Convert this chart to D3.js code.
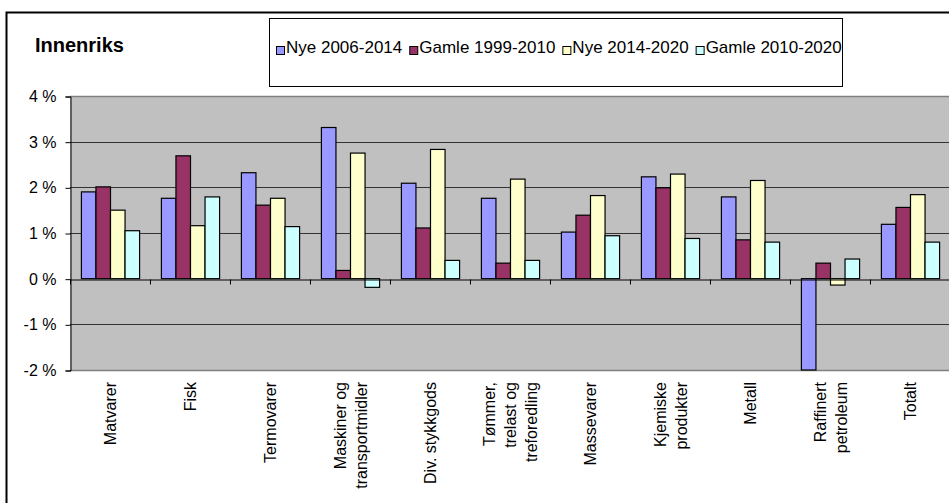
<!DOCTYPE html>
<html><head><meta charset="utf-8">
<script src="https://cdn.jsdelivr.net/npm/d3@7"></script>
<style>
html,body{margin:0;padding:0;background:#fff;}
svg{display:block;font-family:"Liberation Sans",Arial,sans-serif;}
</style></head>
<body>
<script>
const categories = [
  ["Matvarer"],
  ["Fisk"],
  ["Termovarer"],
  ["Maskiner og", "transportmidler"],
  ["Div. stykkgods"],
  ["Tømmer,", "trelast og", "treforedling"],
  ["Massevarer"],
  ["Kjemiske", "produkter"],
  ["Metall"],
  ["Raffinert", "petroleum"],
  ["Totalt"]
];
const seriesNames = ["Nye 2006-2014", "Gamle 1999-2010", "Nye 2014-2020", "Gamle 2010-2020"];
const nye2006_2014   = [1.90, 1.76, 2.32, 3.31, 2.09, 1.76, 1.02, 2.23, 1.79, -2.00, 1.19];
const gamle1999_2010 = [2.01, 2.69, 1.61, 0.18, 1.11, 0.34, 1.39, 1.99, 0.85, 0.34, 1.56];
const nye2014_2020   = [1.50, 1.16, 1.76, 2.75, 2.83, 2.18, 1.82, 2.29, 2.15, -0.14, 1.84];
const gamle2010_2020 = [1.05, 1.79, 1.14, -0.19, 0.40, 0.40, 0.94, 0.88, 0.80, 0.43, 0.80];
const yTickValues = [-2, -1, 0, 1, 2, 3, 4];
const yTickLabels = ["-2 %", "-1 %", "0 %", "1 %", "2 %", "3 %", "4 %"];
const colors = ["#9999FF", "#993366", "#FFFFCC", "#CCFFFF"];
const title = "Innenriks";

const seriesValues = [nye2006_2014, gamle1999_2010, nye2014_2020, gamle2010_2020];
const W = 949, H = 503;
const plot = {left: 70, right: 950, top: 96, bottom: 370};

const svg = d3.select("body").append("svg").attr("width", W).attr("height", H);

// outer chart border
svg.append("rect").attr("x", 6.5).attr("y", 12.5).attr("width", 980).attr("height", 520)
  .attr("fill", "#fff").attr("stroke", "#000").attr("stroke-width", 2);

const catKeys = categories.map((c, i) => i);
const x = d3.scaleBand().domain(catKeys).range([plot.left, plot.right])
  .paddingInner(1.5 / 5.5).paddingOuter(0.75 / 5.5);
const xs = d3.scaleBand().domain(d3.range(seriesNames.length)).range([0, x.bandwidth()]);
const y = d3.scaleLinear().domain([-2, 4]).range([plot.bottom, plot.top]);

// plot area
svg.append("rect").attr("x", plot.left).attr("y", plot.top)
  .attr("width", plot.right - plot.left).attr("height", plot.bottom - plot.top)
  .attr("fill", "#C0C0C0");

// gridlines
svg.append("g").selectAll("line").data(yTickValues.filter(v => v !== 0 && v !== -2 && v !== 4))
  .join("line")
  .attr("x1", plot.left).attr("x2", plot.right)
  .attr("y1", d => Math.round(y(d)) + 0.5).attr("y2", d => Math.round(y(d)) + 0.5)
  .attr("stroke", "#333").attr("stroke-width", 1);
// top & bottom edges
[4, -2].forEach(v => {
  svg.append("line").attr("x1", plot.left).attr("x2", plot.right)
    .attr("y1", Math.round(y(v)) + 0.5).attr("y2", Math.round(y(v)) + 0.5)
    .attr("stroke", "#808080").attr("stroke-width", 1.5);
});

// bars
const groups = svg.append("g").selectAll("g").data(catKeys).join("g")
  .attr("transform", d => `translate(${x(d)},0)`);
groups.selectAll("rect").data(ci => seriesValues.map((vals, si) => ({si, v: vals[ci]})))
  .join("rect")
  .attr("x", d => xs(d.si) + 0.5)
  .attr("width", xs.bandwidth())
  .attr("y", d => y(Math.max(0, d.v)))
  .attr("height", d => Math.abs(y(d.v) - y(0)))
  .attr("fill", d => colors[d.si])
  .attr("stroke", "#000").attr("stroke-width", 1.2);

// y axis
const yAxis = d3.axisLeft(y).tickValues(yTickValues)
  .tickFormat((d, i) => yTickLabels[i]).tickSize(5).tickPadding(9);
const gy = svg.append("g").attr("transform", `translate(${plot.left + 0.5},0.5)`).call(yAxis);
gy.select(".domain").attr("stroke", "#000");
gy.selectAll(".tick line").attr("stroke", "#000");
gy.selectAll(".tick text").attr("font-size", 16).attr("fill", "#000")
  .attr("font-family", "Liberation Sans, Arial, sans-serif");

// x axis line at zero
const xAxis = d3.axisBottom(x).tickValues([]).tickSizeOuter(0);
const gx = svg.append("g").attr("transform", `translate(0,${Math.round(y(0)) + 0.5})`).call(xAxis);
gx.select(".domain").attr("stroke", "#000");
// category boundary ticks
const boundaries = d3.range(categories.length + 1).map(i => plot.left + i * x.step());
gx.selectAll("line.bt").data(boundaries).join("line").attr("class", "bt")
  .attr("x1", d => Math.round(d) + 0.5).attr("x2", d => Math.round(d) + 0.5)
  .attr("y1", 0).attr("y2", 5).attr("stroke", "#000");

// x labels
const lh = 21;
const labelG = svg.append("g");
categories.forEach((lines, ci) => {
  const cx = x(ci) + x.bandwidth() / 2;
  const n = lines.length;
  lines.forEach((ln, li) => {
    const off = (li - (n - 1) / 2) * lh;
    labelG.append("text")
      .attr("transform", `translate(${cx + off + 6},382) rotate(-90)`)
      .attr("text-anchor", "end")
      .attr("font-size", 16).attr("fill", "#000")
      .text(ln);
  });
});

// title
svg.append("text").attr("x", 35).attr("y", 52).attr("font-size", 20).attr("font-weight", "bold")
  .attr("fill", "#000").text(title);

// legend
const leg = {x: 269, y: 18, w: 573, h: 68};
svg.append("rect").attr("x", leg.x + 0.5).attr("y", leg.y + 0.5).attr("width", leg.w).attr("height", leg.h)
  .attr("fill", "#fff").attr("stroke", "#000").attr("stroke-width", 1);
let lx = leg.x + 7;
seriesNames.forEach((name, i) => {
  svg.append("rect").attr("x", lx + 0.5).attr("y", 46.5).attr("width", 8).attr("height", 8)
    .attr("fill", colors[i]).attr("stroke", "#000").attr("stroke-width", 1);
  const t = svg.append("text").attr("x", lx + 10).attr("y", 53).attr("font-size", 17)
    .attr("fill", "#000").text(name);
  lx += 10 + t.node().getComputedTextLength() + 7;
});
</script>
</body></html>
